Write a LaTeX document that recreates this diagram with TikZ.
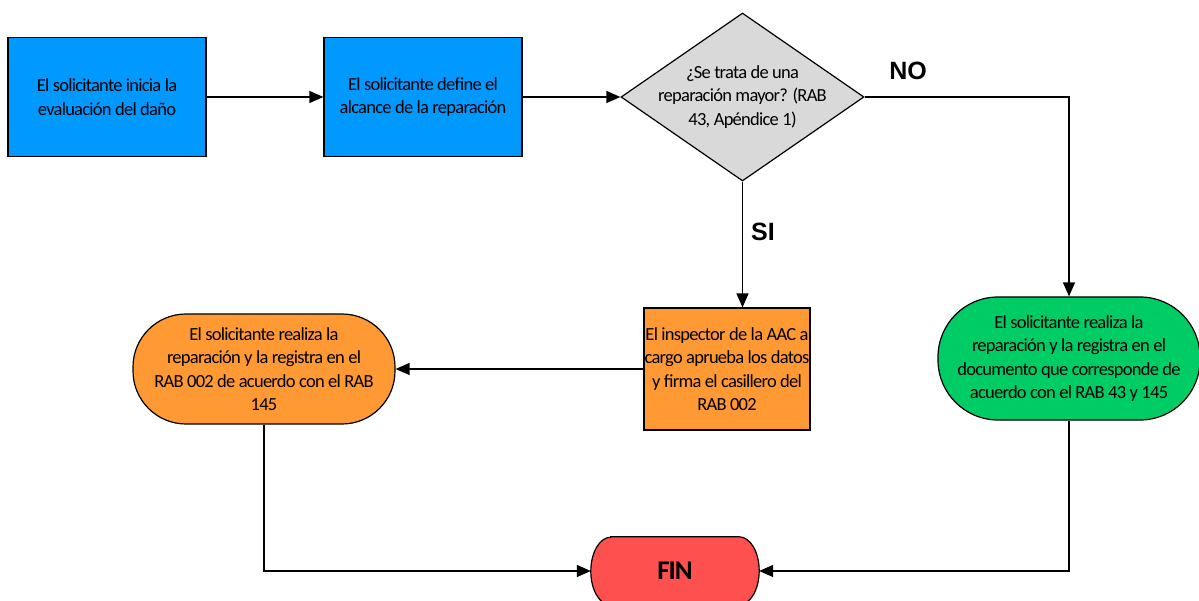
\documentclass[tikz,border=0pt]{standalone}
\usepackage{fontspec}
\setmainfont{Carlito}[LetterSpace=-4]
\newfontfamily\labfont{Liberation Sans}
\usetikzlibrary{arrows.meta,shapes.geometric,backgrounds}
\definecolor{cblue}{RGB}{0,153,255}
\definecolor{cgrey}{RGB}{217,217,217}
\definecolor{corange}{RGB}{255,153,51}
\definecolor{cgreen}{RGB}{0,204,102}
\definecolor{cred}{RGB}{255,80,80}
\begin{document}
\begin{tikzpicture}[x=1pt,y=-1pt,
  every node/.style={font=\fontsize{18.5}{23.5}\selectfont, align=center, inner sep=0pt},
  boxstyle/.style={draw=black, line width=1.2pt, rectangle, minimum width=#1},
  stadium/.style={draw=black, line width=1.2pt, rectangle},
  conn/.style={draw=black, line width=1.3pt, -{Triangle[length=14pt,width=12pt]}},
  lab/.style={font=\labfont\fontsize{25}{25}\selectfont\bfseries}
]
\useasboundingbox (0,0) rectangle (1199,601);

\node[boxstyle=198pt, fill=cblue, minimum height=119pt] (b1) at (107,97)
  {El solicitante inicia la\\evaluación del daño};
\node[boxstyle=198pt, fill=cblue, minimum height=119pt] (b2) at (423,97)
  {El solicitante define el\\alcance de la reparación};

\node[diamond, draw=black, line width=1.2pt, fill=cgrey, minimum width=243pt, minimum height=168pt] (dia) at (742.5,97) {};
\node (diatext) at (742.5,97) {¿Se trata de una\\reparación mayor? (RAB\\43, Apéndice 1)};

\node[boxstyle=166pt, fill=corange, minimum height=122pt] (b3) at (727,369)
  {El inspector de la AAC a\\cargo aprueba los datos\\y firma el casillero del\\RAB 002};

\node[stadium, fill=corange, minimum width=262pt, minimum height=110pt, rounded corners=53pt] (stl) at (264,369)
  {El solicitante realiza la\\reparación y la registra en el\\RAB 002 de acuerdo con el RAB\\145};

\node[stadium, fill=cgreen, minimum width=262pt, minimum height=123pt, rounded corners=60pt] (gr) at (1069,358.5)
  {El solicitante realiza la\\reparación y la registra en el\\documento que corresponde de\\acuerdo con el RAB 43 y 145};

\node[minimum width=168pt, minimum height=68pt, font=\fontsize{27}{27}\selectfont\bfseries] (fin) at (675,571) {FIN};
\begin{scope}[on background layer]
  \draw[line width=1.2pt, fill=cred]
    ([xshift=20pt]fin.north west) -- ([xshift=-20pt]fin.north east)
    arc[start angle=90, end angle=-90, x radius=20pt, y radius=34pt]
    -- ([xshift=20pt]fin.south west)
    arc[start angle=270, end angle=90, x radius=20pt, y radius=34pt] -- cycle;
\end{scope}

\draw[conn] (b1.east) -- (b2.west);
\draw[conn] (b2.east) -- (dia.west);
\draw[conn] (dia.east) -| (gr.north);
\draw[conn] (dia.south) -- (dia.south |- b3.north);
\draw[conn] (b3.west) -- (b3.west -| stl.east);
\draw[conn] (stl.south) |- (fin.west);
\draw[conn] (gr.south) |- (fin.east);

\node[lab] (no) at (908,71) {NO};
\node[lab] (si) at (763,232) {SI};
\end{tikzpicture}
\end{document}
